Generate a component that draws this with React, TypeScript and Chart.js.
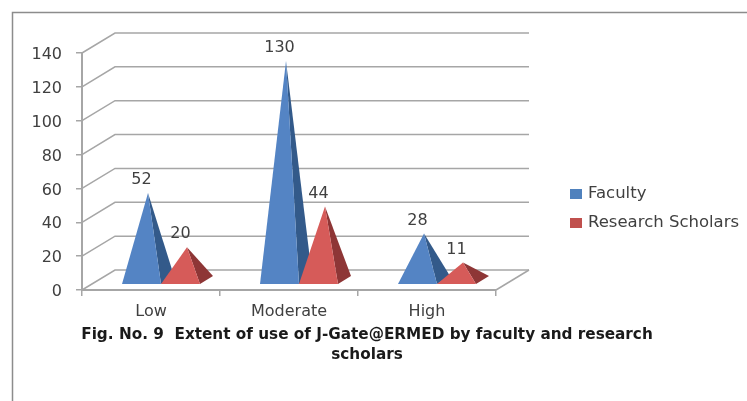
import React, { useEffect, useRef } from "react";
import { Chart, registerables } from "chart.js";

Chart.register(...registerables);

const categories = ["Low", "Moderate", "High"];
const faculty = [52, 130, 28];
const researchScholars = [20, 44, 11];
const titleLines = [
  "Fig. No. 9  Extent of use of J-Gate@ERMED by faculty and research",
  "scholars",
];

const FONT = "'DejaVu Sans'";
const TEXT = "#404040";
const GRID = "#a6a6a6";

// Perspective of the box: how far the back wall sits from the front edge.
const WALL_DX = 33;
const WALL_DY = -20;
// Front edge of a pyramid's base, and the extra shift of its apex at mid depth.
const BASE_DX = 10;
const BASE_DY = -6;
const APEX_DX = 6.5;
const APEX_DY = -4;

const palette = [
  { front: "#5484c4", side: "#335a8a", key: "#4f81bd" },
  { front: "#d65b59", side: "#8e3636", key: "#c0504d" },
];

function line(ctx: CanvasRenderingContext2D, pts: number[][]) {
  ctx.beginPath();
  pts.forEach(([x, y], i) => (i ? ctx.lineTo(x, y) : ctx.moveTo(x, y)));
  ctx.stroke();
}

function fillPoly(ctx: CanvasRenderingContext2D, pts: number[][], color: string) {
  ctx.fillStyle = color;
  ctx.beginPath();
  pts.forEach(([x, y], i) => (i ? ctx.lineTo(x, y) : ctx.moveTo(x, y)));
  ctx.closePath();
  ctx.fill();
}

const boxPlugin = {
  id: "box3d",
  beforeDatasetsDraw(chart: any) {
    const { ctx, scales } = chart;
    const { x, y } = scales;
    ctx.save();
    ctx.strokeStyle = GRID;
    ctx.lineWidth = 1.5;
    // Side wall and back wall gridlines, one per value tick.
    y.ticks.forEach((t: any) => {
      const py = y.getPixelForValue(t.value);
      line(ctx, [
        [x.left, py],
        [x.left + WALL_DX, py + WALL_DY],
        [x.right + WALL_DX, py + WALL_DY],
      ]);
    });
    // Right edge of the floor.
    line(ctx, [
      [x.right, y.bottom],
      [x.right + WALL_DX, y.bottom + WALL_DY],
    ]);
    ctx.restore();
  },
};

const pyramidPlugin = {
  id: "pyramids",
  afterDatasetsDraw(chart: any) {
    const { ctx, scales } = chart;
    const base = scales.y.getPixelForValue(0);
    ctx.save();
    chart.data.datasets.forEach((ds: any, di: number) => {
      const meta = chart.getDatasetMeta(di);
      const colors = palette[di];
      meta.data.forEach((bar: any, i: number) => {
        const half = bar.width / 2;
        const left = bar.x - half + BASE_DX;
        const right = bar.x + half + BASE_DX;
        const by = base + BASE_DY;
        const apex = [bar.x + BASE_DX + APEX_DX, bar.y + BASE_DY + APEX_DY + 1];
        fillPoly(ctx, [[right, by], [right + 2 * APEX_DX, by + 2 * APEX_DY], apex], colors.side);
        fillPoly(ctx, [[left, by], [right, by], apex], colors.front);
        ctx.fillStyle = TEXT;
        ctx.font = `16px ${FONT}`;
        ctx.textAlign = "center";
        ctx.textBaseline = "middle";
        ctx.fillText(String(ds.data[i]), bar.x + BASE_DX, apex[1] - 13);
      });
    });
    ctx.restore();
  },
  afterDraw(chart: any) {
    const { ctx } = chart;
    ctx.save();
    // Outer frame of the figure.
    ctx.strokeStyle = "#8c8c8c";
    ctx.lineWidth = 1.5;
    line(ctx, [[12.5, 401], [12.5, 12.5], [747, 12.5]]);
    // Legend.
    ctx.textBaseline = "middle";
    ctx.textAlign = "left";
    ctx.font = `16.5px ${FONT}`;
    chart.data.datasets.forEach((ds: any, i: number) => {
      const cy = 194 + i * 29;
      ctx.fillStyle = palette[i].key;
      ctx.fillRect(570, cy - 5, 12, 10);
      ctx.fillStyle = TEXT;
      ctx.fillText(ds.label, 588, cy);
    });
    // Caption under the plot.
    ctx.fillStyle = "#1a1a1a";
    ctx.font = `bold 15.25px ${FONT}`;
    ctx.textAlign = "center";
    titleLines.forEach((text, i) => {
      ctx.fillText(text, 367, 335 + i * 20);
    });
    ctx.restore();
  },
};

export default function App() {
  const ref = useRef<HTMLCanvasElement>(null);
  useEffect(() => {
    document.body.style.margin = "0";
    const chart = new Chart(ref.current as HTMLCanvasElement, {
      type: "bar",
      data: {
        labels: categories,
        datasets: [
          { label: "Faculty", data: faculty, backgroundColor: "transparent" },
          { label: "Research Scholars", data: researchScholars, backgroundColor: "transparent" },
        ],
      },
      options: {
        responsive: false,
        animation: false,
        layout: { padding: { left: 0, top: 53, right: 251, bottom: 0 } },
        datasets: { bar: { categoryPercentage: 0.565, barPercentage: 1 } },
        plugins: { legend: { display: false }, title: { display: false }, tooltip: { enabled: false } },
        scales: {
          x: {
            afterFit: (s: any) => { s.height = 111; },
            grid: { drawOnChartArea: false, color: GRID, lineWidth: 1.5, tickLength: 6 },
            border: { color: GRID, width: 2 },
            ticks: { color: TEXT, font: { family: FONT, size: 16 }, padding: 6 },
          },
          y: {
            min: 0,
            max: 140,
            afterFit: (s: any) => { s.width = 82; },
            grid: { drawOnChartArea: false, color: GRID, lineWidth: 1.5, tickLength: 6 },
            border: { color: GRID, width: 2 },
            ticks: { stepSize: 20, color: TEXT, font: { family: FONT, size: 16 }, padding: 14, labelOffset: 2 },
          },
        },
      } as any,
      plugins: [boxPlugin, pyramidPlugin],
    });
    return () => chart.destroy();
  }, []);
  return (
    <div style={{ position: "absolute", left: 0, top: 0, width: 747, height: 401, overflow: "hidden" }}>
      <canvas ref={ref} width={747} height={401} style={{ display: "block" }} />
    </div>
  );
}
